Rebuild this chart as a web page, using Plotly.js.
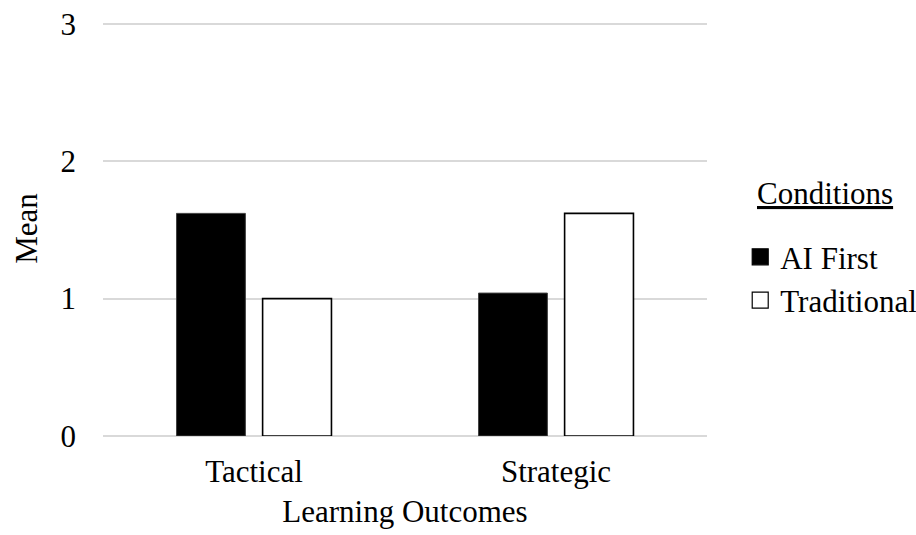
<!DOCTYPE html>
<html>
<head>
<meta charset="utf-8">
<script src="https://cdn.plot.ly/plotly-3.0.1.min.js"></script>
<style>
  html, body { margin: 0; padding: 0; background: #ffffff; }
  #chart { width: 916px; height: 535px; }
  #chart text { font-family: "Liberation Serif", "Times New Roman", serif !important; }
</style>
</head>
<body>
<div id="chart"></div>
<script>
// Learning outcome means by condition
const outcomes = ["Tactical", "Strategic"];
const conditions = ["AI First", "Traditional"];
const aiFirst = [1.62, 1.04];
const traditional = [1.0, 1.62];
const yTicks = [0, 1, 2, 3];
const legendHeading = "Conditions";

const FONT = "Liberation Serif";
const SIZE = 31;

const fills = ["#000000", "#ffffff"];
const edges = [{ color: "#404040", width: 1 }, { color: "#000000", width: 1.6 }];
const series = [aiFirst, traditional];

// bars (legend shown through larger square keys below)
const traces = series.map((vals, i) => ({
  type: "bar",
  name: conditions[i],
  x: outcomes,
  y: vals,
  showlegend: false,
  marker: { color: fills[i], line: edges[i] },
  hoverinfo: "skip"
}));

// square legend keys
conditions.forEach((name, i) => {
  traces.push({
    type: "scatter",
    mode: "markers",
    name: name,
    x: [null],
    y: [null],
    legendgroup: "g" + i,
    marker: { symbol: "square", size: 16, color: fills[i], line: { color: "#000000", width: 1.2 } },
    hoverinfo: "skip"
  });
});

const layout = {
  width: 916,
  height: 535,
  paper_bgcolor: "#ffffff",
  plot_bgcolor: "#ffffff",
  font: { family: FONT, size: SIZE, color: "#000000" },
  margin: { l: 103, r: 209, t: 21, b: 99, autoexpand: false },
  barmode: "group",
  bargap: 0.43,
  bargroupgap: 0.2,
  showlegend: true,
  legend: {
    x: 1.055,
    xanchor: "left",
    y: 0.496,
    yanchor: "top",
    font: { family: FONT, size: SIZE, color: "#000000" },
    tracegroupgap: 0,
    itemwidth: 30,
    itemsizing: "trace",
    bgcolor: "rgba(0,0,0,0)"
  },
  annotations: [
    {
      text: "<u>" + legendHeading + "</u>",
      xref: "paper",
      yref: "paper",
      x: 1.079,
      xanchor: "left",
      y: 0.585,
      yanchor: "middle",
      showarrow: false,
      font: { family: FONT, size: SIZE, color: "#000000" }
    }
  ],
  xaxis: {
    type: "category",
    showgrid: false,
    showline: false,
    zeroline: false,
    ticks: "",
    ticklabelstandoff: 14,
    tickfont: { family: FONT, size: SIZE, color: "#000000" },
    title: { text: "Learning Outcomes", font: { family: FONT, size: SIZE, color: "#000000" }, standoff: 12 }
  },
  yaxis: {
    range: [0, 3.02],
    tickvals: yTicks,
    ticktext: yTicks.map(String),
    showgrid: true,
    gridcolor: "#d9d9d9",
    gridwidth: 1.5,
    zeroline: true,
    zerolinecolor: "#d9d9d9",
    zerolinewidth: 1.5,
    showline: false,
    ticks: "",
    ticklabelstandoff: 26,
    tickfont: { family: FONT, size: SIZE, color: "#000000" },
    title: { text: "Mean", font: { family: FONT, size: SIZE, color: "#000000" }, standoff: 13 }
  }
};

Plotly.newPlot("chart", traces, layout, { displayModeBar: false });
</script>
</body>
</html>
